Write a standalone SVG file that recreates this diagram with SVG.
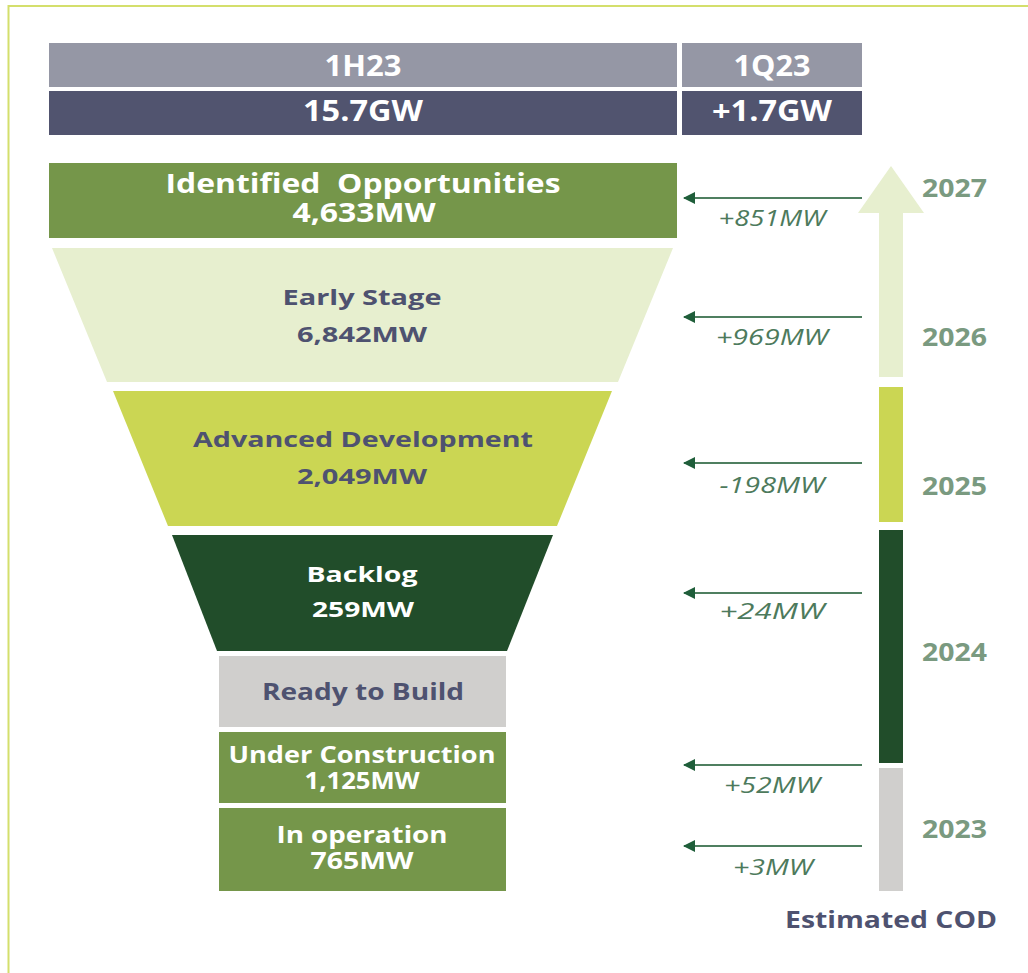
<svg xmlns="http://www.w3.org/2000/svg" width="1028" height="973" viewBox="0 0 1028 973">
<style>
.t{font-family:"Open Sans","Liberation Sans",sans-serif;font-weight:700;text-anchor:middle}
.w{fill:#ffffff}
.n{fill:#4e5270}
.d{font-family:"Open Sans","Liberation Sans",sans-serif;font-style:italic;font-size:22px;fill:#4d7a5c;text-anchor:middle}
.y{font-family:"Open Sans","Liberation Sans",sans-serif;font-weight:700;font-size:25px;fill:#7a9a80}
.c{stroke:#4f7f60;stroke-width:2;fill:none}
</style>
<defs>
<marker id="ah" markerWidth="13" markerHeight="12" refX="11" refY="6" orient="auto" markerUnits="userSpaceOnUse">
<path d="M0,0 L12,6 L0,12 Z" fill="#1f5e3a"/>
</marker>
</defs>
<rect x="0" y="0" width="1028" height="973" fill="#ffffff"/>
<path d="M8.5,973 V6 H1028" fill="none" stroke="#d4df6c" stroke-width="2"/>

<g id="header">
<rect x="49" y="43" width="628" height="44" fill="#9597a5"/>
<rect x="682" y="43" width="180" height="44" fill="#9597a5"/>
<rect x="49" y="91" width="628" height="44" fill="#51546f"/>
<rect x="682" y="91" width="180" height="44" fill="#51546f"/>
<text class="t w" x="363" y="76" font-size="29" textLength="77" lengthAdjust="spacingAndGlyphs">1H23</text>
<text class="t w" x="772" y="76" font-size="29" textLength="77" lengthAdjust="spacingAndGlyphs">1Q23</text>
<text class="t w" x="363" y="121" font-size="29" textLength="120" lengthAdjust="spacingAndGlyphs">15.7GW</text>
<text class="t w" x="772" y="121" font-size="29" textLength="120" lengthAdjust="spacingAndGlyphs">+1.7GW</text>
</g>

<g id="identified">
<rect x="49" y="163" width="628" height="75" fill="#75964a"/>
<text class="t w" x="363" y="193" font-size="26" textLength="395" lengthAdjust="spacingAndGlyphs" xml:space="preserve">Identified  Opportunities</text>
<text class="t w" x="364" y="222" font-size="26" textLength="143" lengthAdjust="spacingAndGlyphs">4,633MW</text>
</g>

<g id="early">
<polygon points="52,248 673,248 618,382 107,382" fill="#e7efcf"/>
<text class="t n" x="362" y="305" font-size="22" textLength="159" lengthAdjust="spacingAndGlyphs">Early Stage</text>
<text class="t n" x="362" y="342" font-size="22" textLength="130" lengthAdjust="spacingAndGlyphs">6,842MW</text>
</g>

<g id="advanced">
<polygon points="113,391 612,391 557,526 168,526" fill="#cbd653"/>
<text class="t n" x="363" y="447" font-size="22" textLength="340" lengthAdjust="spacingAndGlyphs">Advanced Development</text>
<text class="t n" x="362" y="484" font-size="22" textLength="130" lengthAdjust="spacingAndGlyphs">2,049MW</text>
</g>

<g id="backlog">
<polygon points="172,535 553,535 507,651 217,651" fill="#214d2a"/>
<text class="t w" x="362" y="582" font-size="22" textLength="111" lengthAdjust="spacingAndGlyphs">Backlog</text>
<text class="t w" x="363" y="617" font-size="22" textLength="102" lengthAdjust="spacingAndGlyphs">259MW</text>
</g>

<g id="ready">
<rect x="219" y="656" width="287" height="71" fill="#d0cfcd"/>
<text class="t n" x="363" y="700" font-size="24" textLength="202" lengthAdjust="spacingAndGlyphs">Ready to Build</text>
</g>

<g id="construction">
<rect x="219" y="732" width="287" height="71" fill="#75964a"/>
<text class="t w" x="362" y="763" font-size="24" textLength="267" lengthAdjust="spacingAndGlyphs">Under Construction</text>
<text class="t w" x="362" y="789" font-size="24" textLength="115" lengthAdjust="spacingAndGlyphs">1,125MW</text>
</g>

<g id="operation">
<rect x="219" y="808" width="287" height="83" fill="#75964a"/>
<text class="t w" x="362" y="843" font-size="24" textLength="171" lengthAdjust="spacingAndGlyphs">In operation</text>
<text class="t w" x="362" y="869" font-size="24" textLength="103" lengthAdjust="spacingAndGlyphs">765MW</text>
</g>

<g id="timeline">
<polygon points="891,166 924,213 903,213 903,377 879,377 879,213 858,213" fill="#e7efcf"/>
<rect x="879" y="387" width="24" height="135" fill="#cbd653"/>
<rect x="879" y="530" width="24" height="233" fill="#214d2a"/>
<rect x="879" y="768" width="24" height="123" fill="#d0cfcd"/>
<text class="y" x="922" y="197" textLength="65" lengthAdjust="spacingAndGlyphs">2027</text>
<text class="y" x="922" y="346" textLength="65" lengthAdjust="spacingAndGlyphs">2026</text>
<text class="y" x="922" y="495" textLength="65" lengthAdjust="spacingAndGlyphs">2025</text>
<text class="y" x="922" y="661" textLength="65" lengthAdjust="spacingAndGlyphs">2024</text>
<text class="y" x="922" y="838" textLength="65" lengthAdjust="spacingAndGlyphs">2023</text>
<text class="t n" x="891" y="928" font-size="24" textLength="212" lengthAdjust="spacingAndGlyphs">Estimated COD</text>
</g>

<g id="connectors">
<line class="c" x1="862" y1="198" x2="684" y2="198" marker-end="url(#ah)"/>
<line class="c" x1="862" y1="317" x2="684" y2="317" marker-end="url(#ah)"/>
<line class="c" x1="862" y1="463" x2="684" y2="463" marker-end="url(#ah)"/>
<line class="c" x1="862" y1="593" x2="684" y2="593" marker-end="url(#ah)"/>
<line class="c" x1="862" y1="765" x2="684" y2="765" marker-end="url(#ah)"/>
<line class="c" x1="862" y1="846" x2="684" y2="846" marker-end="url(#ah)"/>
<text class="d" x="772" y="226" textLength="107" lengthAdjust="spacingAndGlyphs">+851MW</text>
<text class="d" x="772" y="345" textLength="112" lengthAdjust="spacingAndGlyphs">+969MW</text>
<text class="d" x="772" y="493" textLength="105" lengthAdjust="spacingAndGlyphs">-198MW</text>
<text class="d" x="772" y="619" textLength="105" lengthAdjust="spacingAndGlyphs">+24MW</text>
<text class="d" x="772" y="793" textLength="96" lengthAdjust="spacingAndGlyphs">+52MW</text>
<text class="d" x="773" y="875" textLength="80" lengthAdjust="spacingAndGlyphs">+3MW</text>
</g>
</svg>
